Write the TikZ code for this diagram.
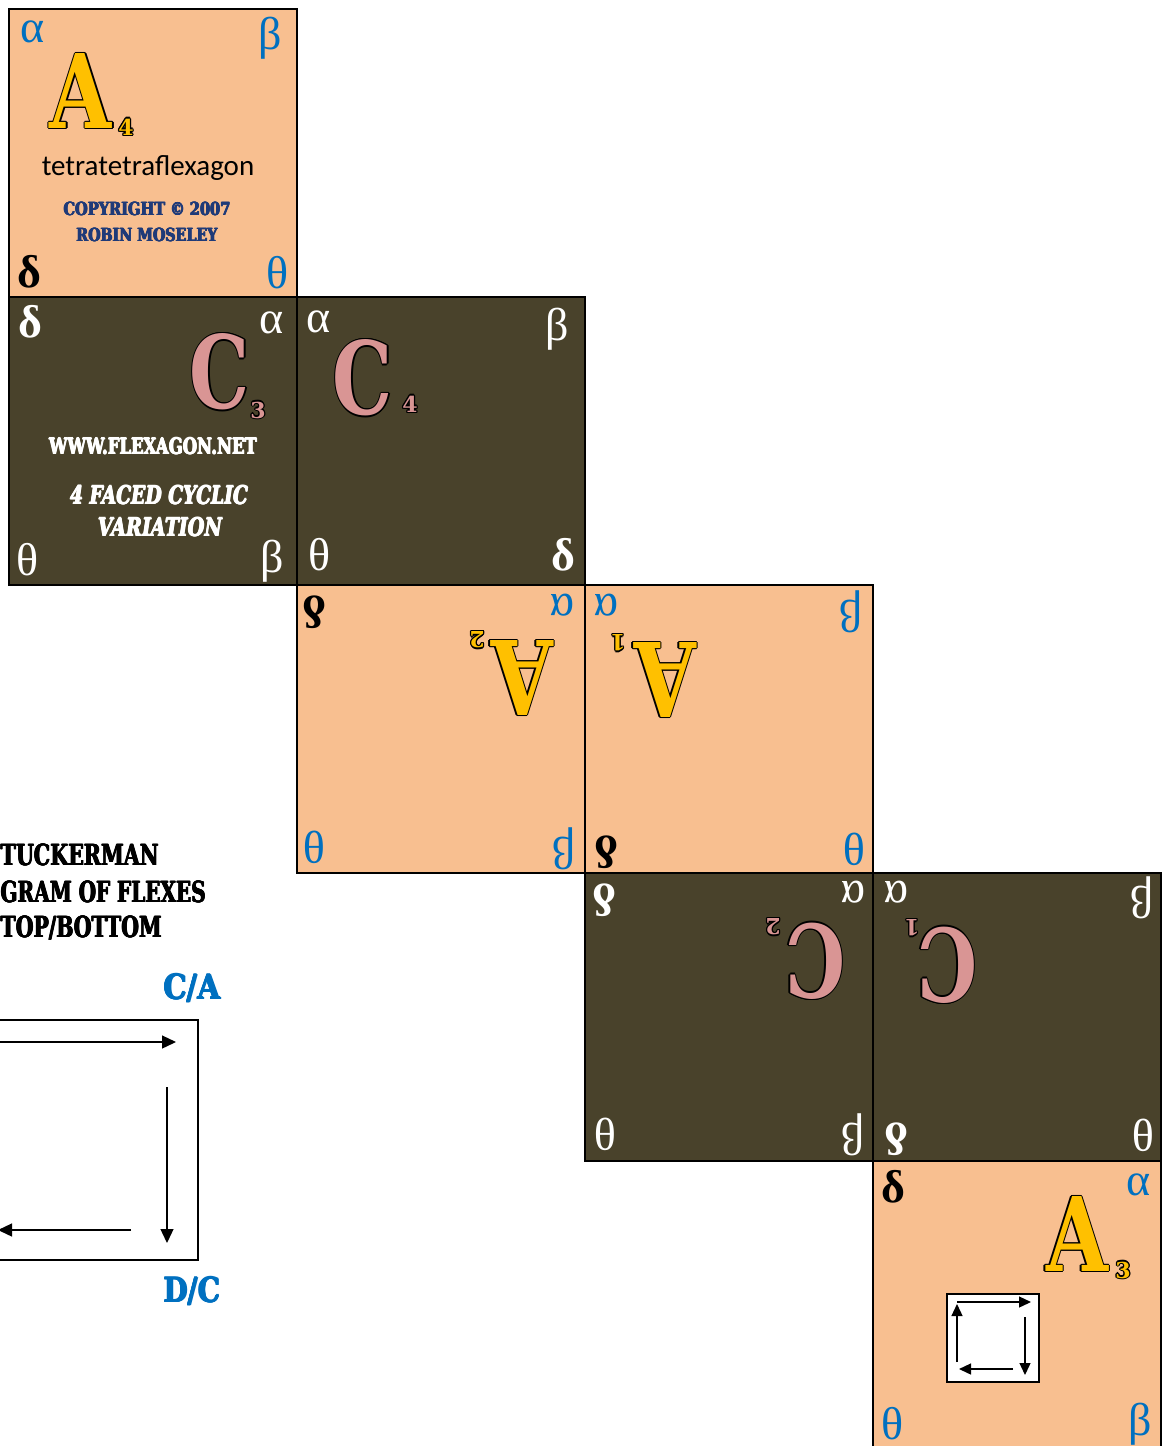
\documentclass[tikz,border=0pt]{standalone}
\usepackage{fontspec}
\setmainfont{Liberation Serif}
\newfontfamily\calfont{Carlito}
\newfontfamily\heavy{DejaVu Serif}
\usetikzlibrary{arrows.meta}
\definecolor{peach}{HTML}{F8BF90}
\definecolor{olive}{HTML}{49422B}
\definecolor{gold}{HTML}{FFC000}
\definecolor{rose}{HTML}{D99594}
\definecolor{gblue}{HTML}{0070C0}
\definecolor{navy}{HTML}{1F3A78}
\newcommand\fs[1]{\fontsize{#1}{#1}\selectfont}
% text squeezed to a given width: width, font size, text
\newcommand\fit[3]{\resizebox{#1pt}{\height}{\heavy\bfseries\fs{#2}#3}}
\newcommand\fiti[3]{\resizebox{#1pt}{\height}{\heavy\bfseries\itshape\fs{#2}#3}}
\newcommand\bigA{\resizebox{62pt}{75pt}{\heavy\bfseries A}}
\newcommand\bigC{\resizebox{60pt}{75pt}{\heavy\bfseries C}}
\newcommand\subd[1]{\heavy\bfseries\fs{22}#1}
% outlined text: name, position, rotation, fill colour, content
\newcommand\olt[5]{%
  \foreach \k/\dx/\dy in {1/1.3/0,2/-1.3/0,3/0/1.3,4/0/-1.3,5/0.9/0.9,6/-0.9/0.9,7/0.9/-0.9,8/-0.9/-0.9}
    \node[text=black,inner sep=0,rotate=#3,shift={(\dx,\dy)}] (#1o\k) at (#2) {#5};
  \node[text=#4,inner sep=0,rotate=#3] (#1) at (#2) {#5};
}
% heavy text: name, position, anchor, colour, content (thickened by small offsets)
\newcommand\hvt[5]{%
  \foreach \k/\dx/\dy in {1/0.5/0,2/-0.5/0,3/0/0.4,4/0/-0.4}
    \node[text=#4,inner sep=0,anchor=#3,shift={(\dx,\dy)}] (#1h\k) at (#2) {#5};
  \node[text=#4,inner sep=0,anchor=#3] (#1) at (#2) {#5};
}
\tikzset{
  tile/.style={draw=black,line width=1.6pt,minimum size=288pt,anchor=north west,inner sep=0},
  gk/.style={font=\fs{46},inner sep=0},
  gkb/.style={font=\bfseries\fs{46},inner sep=0},
  arr/.style={line width=1.3pt,-{Triangle[length=14pt,width=13pt]}},
  sarr/.style={line width=1.3pt,-{Triangle[length=12pt,width=11pt]}}
}
\begin{document}
\begin{tikzpicture}[x=1pt,y=-1pt]
\clip (0,0) rectangle (1167,1446);
\fill[white] (0,0) rectangle (1167,1446);
% tiles
\node[tile,fill=peach] (s1) at (8,8) {};
\node[tile,fill=olive] (s2a) at (8,296) {};
\node[tile,fill=olive] (s2b) at (296,296) {};
\node[tile,fill=peach] (s3a) at (296,584) {};
\node[tile,fill=peach] (s3b) at (584,584) {};
\node[tile,fill=olive] (s4a) at (584,872) {};
\node[tile,fill=olive] (s4b) at (872,872) {};
\node[tile,fill=peach] (s5) at (872,1160) {};
% square 1
\node[gk,text=gblue] (g1a) at (33,32) {α};
\node[gk,text=gblue] (g1b) at (270,38) {β};
\node[gkb,text=black] (g1d) at (29,272) {δ};
\node[gk,text=gblue] (g1t) at (278,273) {θ};
\olt{A4}{81,91}{0}{gold}{\bigA}
\olt{A4s}{126,127}{0}{gold}{\subd{4}}
\node[inner sep=0,font=\calfont\fs{29}] (tt) at (148,168) {tetratetraflexagon};
\hvt{cp1}{147,209}{center}{navy}{\fit{167}{18}{COPYRIGHT © 2007}}
\hvt{cp2}{147,235}{center}{navy}{\fit{141}{18}{ROBIN MOSELEY}}
% square 2a
\node[gkb,text=white] (g2d) at (30,322) {δ};
\node[gk,text=white] (g2a) at (272,323) {α};
\node[gk,text=white] (g2t) at (28,560) {θ};
\node[gk,text=white] (g2b) at (272,561) {β};
\olt{C3}{220,372}{0}{rose}{\bigC}
\olt{C3s}{258,410}{0}{rose}{\subd{3}}
\hvt{www}{153,446}{center}{white}{\fit{208}{22}{WWW.FLEXAGON.NET}}
\hvt{fc1}{159,495}{center}{white}{\fiti{178}{25}{4 FACED CYCLIC}}
\hvt{fc2}{160,527}{center}{white}{\fiti{124}{25}{VARIATION}}
% square 2b
\node[gk,text=white] (g3a) at (319,322) {α};
\node[gk,text=white] (g3b) at (557,329) {β};
\node[gk,text=white] (g3t) at (320,555) {θ};
\node[gkb,text=white] (g3d) at (563,555) {δ};
\olt{C4}{363,378}{0}{rose}{\bigC}
\olt{C4s}{410,404}{0}{rose}{\subd{4}}
% square 3a (upside down)
\node[gkb,text=black,rotate=180] (g4d) at (315,612) {δ};
\node[gk,text=gblue,rotate=180] (g4a) at (562,605) {α};
\node[gk,text=gblue,rotate=180] (g4t) at (314,847) {θ};
\node[gk,text=gblue,rotate=180] (g4b) at (564,849) {β};
\olt{A2}{522,678}{180}{gold}{\bigA}
\olt{A2s}{477,640}{180}{gold}{\subd{2}}
% square 3b (upside down)
\node[gk,text=gblue,rotate=180] (g5a) at (606,605) {α};
\node[gk,text=gblue,rotate=180] (g5b) at (851,612) {β};
\node[gkb,text=black,rotate=180] (g5d) at (607,852) {δ};
\node[gk,text=gblue,rotate=180] (g5t) at (854,849) {θ};
\olt{A1}{665,680}{180}{gold}{\bigA}
\olt{A1s}{618,643}{180}{gold}{\subd{1}}
% square 4a (upside down)
\node[gkb,text=white,rotate=180] (g6d) at (605,900) {δ};
\node[gk,text=white,rotate=180] (g6a) at (853,892) {α};
\node[gk,text=white,rotate=180] (g6t) at (605,1134) {θ};
\node[gk,text=white,rotate=180] (g6b) at (853,1135) {β};
\olt{C2}{815,961}{180}{rose}{\bigC}
\olt{C2s}{773,927}{180}{rose}{\subd{2}}
% square 4b (upside down)
\node[gk,text=white,rotate=180] (g7a) at (896,892) {α};
\node[gk,text=white,rotate=180] (g7b) at (1142,898) {β};
\node[gkb,text=white,rotate=180] (g7d) at (897,1139) {δ};
\node[gk,text=white,rotate=180] (g7t) at (1143,1135) {θ};
\olt{C1}{947,965}{180}{rose}{\bigC}
\olt{C1s}{912,928}{180}{rose}{\subd{1}}
% square 5
\node[gkb,text=black] (g8d) at (893,1187) {δ};
\node[gk,text=gblue] (g8a) at (1139,1185) {α};
\node[gk,text=gblue] (g8t) at (893,1424) {θ};
\node[gk,text=gblue] (g8b) at (1140,1424) {β};
\olt{A3}{1077,1234}{0}{gold}{\bigA}
\olt{A3s}{1123,1270}{0}{gold}{\subd{3}}
\node[draw=black,fill=white,line width=1.6pt,anchor=north west,minimum width=92pt,minimum height=88pt,inner sep=0] (mini) at (946,1293) {};
\coordinate (m1) at (957,1302); \coordinate (m2) at (1031,1302);
\coordinate (m3) at (1025,1317); \coordinate (m4) at (1025,1375);
\coordinate (m5) at (1013,1369); \coordinate (m6) at (959,1369);
\coordinate (m7) at (957,1362); \coordinate (m8) at (957,1304);
\draw[sarr] (m1) -- (m2);
\draw[sarr] (m3) -- (m4);
\draw[sarr] (m5) -- (m6);
\draw[sarr] (m7) -- (m8);
% Tuckerman diagram
\hvt{tk1}{0.5,855}{west}{black}{\fit{158}{29}{TUCKERMAN}}
\hvt{tk2}{0.5,892}{west}{black}{\fit{205}{29}{GRAM OF FLEXES}}
\hvt{tk3}{0.5,928}{west}{black}{\fit{161}{29}{TOP/BOTTOM}}
\hvt{ca}{192,988}{center}{gblue}{\fit{57}{34}{C/A}}
\hvt{dc}{192,1291}{center}{gblue}{\fit{57}{34}{D/C}}
\node[draw=black,line width=1.6pt,anchor=north west,minimum width=220pt,minimum height=240pt,inner sep=0] (tbox) at (-23,1019) {};
\coordinate (t1) at (-10,1042); \coordinate (t2) at (176,1042);
\coordinate (t3) at (167,1087); \coordinate (t4) at (167,1243);
\coordinate (t5) at (131,1230); \coordinate (t6) at (-2,1230);
\draw[arr] (t1) -- (t2);
\draw[arr] (t3) -- (t4);
\draw[arr] (t5) -- (t6);
\end{tikzpicture}
\end{document}
